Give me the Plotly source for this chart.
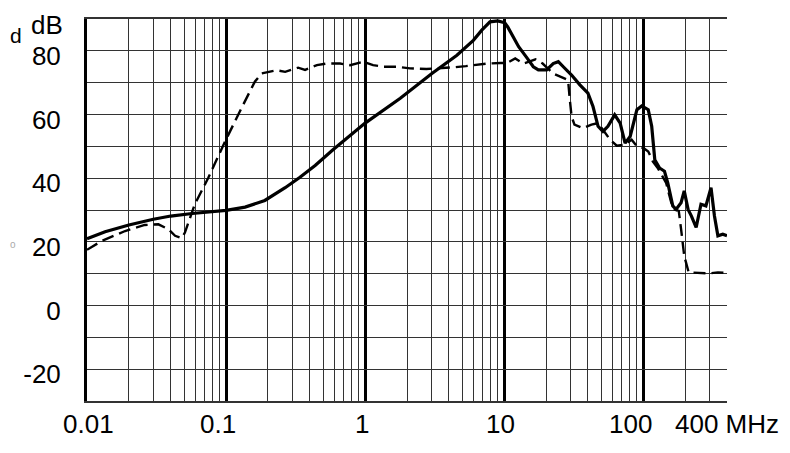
import math
import plotly.graph_objects as go

# ---- data (frequency in MHz, level in dB) ----
solid_f = [0.01, 0.0135, 0.02, 0.03, 0.04, 0.057, 0.1, 0.137, 0.19, 0.266, 0.34, 0.437,
           0.59, 1.0, 1.79, 3.02, 4.57, 6.0, 6.9, 7.9, 9.0, 10.1, 10.6, 11.5, 12.7, 14.4,
           16.2, 17.6, 20.2, 22.5, 24.5, 26.6, 30.5, 35, 40, 43.5, 47.3, 51.3, 55.7, 62.3,
           68.2, 74, 80.5, 90, 97.5, 108.6, 115, 121, 131, 142, 150, 163, 172, 187, 197,
           210, 222, 240, 260, 282, 307, 325, 344, 373, 400]
solid_db = [21.0, 23.2, 25.3, 27.1, 28.1, 28.9, 29.9, 30.9, 33.0, 37.0, 40.3, 44.0,
            49.0, 57.3, 65.1, 72.9, 78.6, 83.3, 86.5, 89.1, 89.4, 88.8, 87.5, 84.9, 81.3, 78.1,
            75.0, 74.0, 74.0, 76.0, 76.6, 75.0, 72.4, 69.3, 66.7, 62.5, 56.3, 54.7, 56.3, 59.9,
            57.3, 51.0, 53.1, 61.5, 62.7, 61.5, 56.3, 45.8, 43.2, 42.2, 38.5, 31.3, 30.2, 32.3, 36.0,
            30.2, 28.1, 24.5, 31.8, 31.3, 37.0, 28.1, 21.9, 22.4, 21.9]

dash_f = [0.01, 0.0128, 0.0188, 0.026, 0.0326, 0.0384, 0.043, 0.048, 0.0506, 0.0596, 0.0745,
          0.0985, 0.129, 0.161, 0.18, 0.2, 0.23, 0.266, 0.33, 0.37, 0.38, 0.45, 0.53, 0.66, 0.78,
          0.97, 1.14, 1.35, 1.68, 2.1, 2.76, 3.43, 4.27, 5.3, 6.0, 7.5, 9.4, 10.5, 12.0, 13.7,
          16.8, 18.9, 22.5, 27.2, 28.8, 29.5, 30.5, 32, 36.8, 42.4, 47.3, 51.3, 57.7, 64.5,
          74, 82.5, 90, 100, 108.6, 117, 127, 146, 159, 167, 180, 187, 197, 212, 252, 296, 344, 400]
dash_db = [17.5, 20.3, 23.4, 25.3, 25.5, 24.0, 21.9, 21.2, 22.9, 31.8, 40.1,
           51.6, 62.0, 70.3, 72.9, 73.4, 73.9, 73.4, 74.7, 74.0, 74.2, 75.5, 76.0, 76.0, 75.5,
           76.6, 75.5, 75.0, 75.0, 74.5, 74.3, 74.5, 74.8, 75.2, 75.5, 76.0, 76.2, 76.2, 77.6, 76.0,
           77.3, 76.0, 72.9, 71.3, 70.8, 65.6, 59.4, 56.8, 55.7, 56.8, 57.3, 55.2, 52.1, 50.2,
           50.5, 52.1, 50.0, 49.5, 48.4, 45.3, 43.2, 38.5, 32.3, 30.2, 29.7, 24.0, 15.6, 10.4, 10.2, 10.1, 10.4, 10.2]

x_tick_vals = [0.01, 0.1, 1, 10, 100, 400]
x_tick_text = ["0.01", "0.1", "1", "10", "100", "400 MHz"]
x_tick_shift = [1, -8, -3, -4, -13, 0]
y_tick_vals = [-20, 0, 20, 40, 60, 80]
y_tick_text = ["-20", "0", "20", "40", "60", "80"]

FONT = "Liberation Sans, Arial, sans-serif"

fig = go.Figure()
fig.add_trace(go.Scatter(x=dash_f, y=dash_db, mode="lines",
                         line=dict(color="black", width=2.4, dash="12px,6px"),
                         showlegend=False, hoverinfo="skip"))
fig.add_trace(go.Scatter(x=solid_f, y=solid_db, mode="lines",
                         line=dict(color="black", width=3.2),
                         showlegend=False, hoverinfo="skip"))

annotations = []
for v, t, s in zip(x_tick_vals, x_tick_text, x_tick_shift):
    annotations.append(dict(x=math.log10(v), y=-0.06, xref="x", yref="paper", text=t,
                            showarrow=False, xanchor="center", yanchor="middle", xshift=s,
                            font=dict(family=FONT, size=26, color="black")))
annotations.append(dict(x=-0.0344, y=0.984, xref="paper", yref="paper", text="dB",
                        showarrow=False, xanchor="right", yanchor="middle",
                        font=dict(family=FONT, size=26, color="black")))
annotations.append(dict(x=-0.1234, y=0.958, xref="paper", yref="paper", text="d",
                        showarrow=False, xanchor="left", yanchor="middle",
                        font=dict(family=FONT, size=21, color="black")))
annotations.append(dict(x=-0.1234, y=0.41, xref="paper", yref="paper", text="o",
                        showarrow=False, xanchor="left", yanchor="middle",
                        font=dict(family=FONT, size=10, color="#aaaaaa")))

# The page body has an 8px margin, so the figure is made 8px smaller and the
# margins are trimmed to keep the plot area where the reference has it.
fig.update_layout(
    width=782, height=445,
    margin=dict(l=79, r=63, t=9, b=52),
    paper_bgcolor="white", plot_bgcolor="white",
    annotations=annotations,
    xaxis=dict(type="log", range=[-2, math.log10(400)],
               tickvals=[0.01, 0.1, 1, 10, 100], showticklabels=False, ticks="",
               showgrid=True, gridcolor="black", gridwidth=2.6,
               minor=dict(dtick="D1", showgrid=True, gridcolor="#333333", gridwidth=1.3, ticks=""),
               showline=True, mirror=True, linecolor="#333333", linewidth=1.5,
               zeroline=False, fixedrange=True),
    yaxis=dict(range=[-30, 90], tickvals=y_tick_vals, ticktext=y_tick_text, ticks="",
               showgrid=True, gridcolor="#333333", gridwidth=1.3,
               minor=dict(dtick=10, showgrid=True, gridcolor="#333333", gridwidth=1.3, ticks=""),
               showline=True, linecolor="black", linewidth=3,
               ticklabelstandoff=18, ticklabelshift=5,
               tickfont=dict(family=FONT, size=26, color="black"),
               zeroline=False, fixedrange=True),
    yaxis2=dict(overlaying="y", side="right", range=[-30, 90], showgrid=False,
                showticklabels=False, ticks="", showline=True, linecolor="#333333",
                linewidth=1.5, zeroline=False, fixedrange=True),
)

fig.write_html("out.html")
